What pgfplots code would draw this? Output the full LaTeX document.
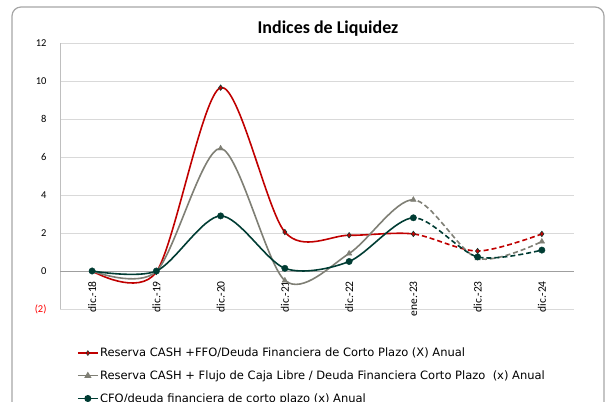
\documentclass[border=0pt]{standalone}
\usepackage{graphicx}
\usepackage{pgfplots}
\usepackage{pgfplotstable}
\pgfplotsset{compat=1.18}
\usepackage{fontspec}
\setmainfont{Carlito}
\newfontfamily\legfont{DejaVu Sans}
\definecolor{cred}{HTML}{C00000}
\definecolor{cgray}{HTML}{7F7F75}
\definecolor{cgreen}{HTML}{003C33}
\definecolor{cgrid}{HTML}{D9D9D9}
\definecolor{cframe}{HTML}{A6A6A6}
\newcommand{\rl}[1]{\rotatebox{90}{#1}}

\pgfplotstableread{
x a b c
0 0 0 0
1 -0.05 -0.02 0
2 9.65 6.45 2.9
3 2.05 -0.5 0.14
4 1.88 0.92 0.5
5 1.95 3.75 2.8
6 1.05 0.67 0.74
7 1.95 1.55 1.1
}\data

\begin{document}
\begin{tikzpicture}
\clip (0,0) rectangle (606bp,402bp);
\draw[cframe, line width=1.2bp, rounded corners=9bp] (12bp,-20bp) -- (12bp,395bp) -- (604bp,395bp) -- (604bp,-20bp);
\node[font=\bfseries\fontsize{18bp}{20bp}\selectfont] at (328bp,373bp) {Indices de Liquidez};
\begin{axis}[
  at={(60bp,93bp)}, anchor=south west,
  width=514bp, height=266bp, scale only axis,
  xmin=-0.5, xmax=7.5, ymin=-2, ymax=12,
  axis x line=bottom, axis y line=left,
  x axis line style={-, draw=none},
  y axis line style={-, draw=gray!50, line width=0.8bp},
  xtick={0,...,7},
  xticklabels={\rl{dic.-18},\rl{dic.-19},\rl{dic.-20},\rl{dic.-21},\rl{dic.-22},\rl{ene.-23},\rl{dic.-23},\rl{dic.-24}},
  xticklabel style={anchor=north, font=\fontsize{11.5bp}{13bp}\selectfont, inner sep=0bp, yshift=28bp},
  ytick={-2,2,4,...,12},
  yticklabels={\textcolor{red}{(2)},2,4,6,8,10,12},
  extra y ticks={0},
  extra y tick labels={0},
  extra y tick style={grid style={gray!75, line width=0.9bp}},
  yticklabel style={anchor=east, font=\fontsize{10.5bp}{12bp}\selectfont, xshift=-10bp},
  major tick length=0,
  ymajorgrids, grid style={cgrid, line width=0.8bp},
  clip=false,
  legend style={at={(0.033,-0.14)}, anchor=north west, draw=none, fill=none,
    font=\legfont\fontsize{11.5bp}{13.5bp}\selectfont, row sep=9.5bp, inner sep=0bp,
    nodes={inner sep=1.5bp}},
  legend cell align=left,
  legend image code/.code={\draw[mark repeat=2,mark phase=2] plot coordinates {(0bp,0bp)(10bp,0bp)(20bp,0bp)};},
]
% red
\begin{scope}
\clip (axis cs:-1,-3) rectangle (axis cs:5,13);
\addplot[cred, line width=1.6bp, smooth, no markers, forget plot] table[x=x,y=a]{\data};
\end{scope}
\begin{scope}
\clip (axis cs:5,-3) rectangle (axis cs:8,13);
\addplot[cred, line width=1.6bp, smooth, no markers, dash pattern=on 5bp off 3bp, forget plot] table[x=x,y=a]{\data};
\end{scope}
% gray
\begin{scope}
\clip (axis cs:-1,-3) rectangle (axis cs:5,13);
\addplot[cgray, line width=1.6bp, smooth, no markers, forget plot] table[x=x,y=b]{\data};
\end{scope}
\begin{scope}
\clip (axis cs:5,-3) rectangle (axis cs:8,13);
\addplot[cgray, line width=1.6bp, smooth, no markers, dash pattern=on 5bp off 3bp, forget plot] table[x=x,y=b]{\data};
\end{scope}
% green
\begin{scope}
\clip (axis cs:-1,-3) rectangle (axis cs:5,13);
\addplot[cgreen, line width=1.6bp, smooth, no markers, forget plot] table[x=x,y=c]{\data};
\end{scope}
\begin{scope}
\clip (axis cs:5,-3) rectangle (axis cs:8,13);
\addplot[cgreen, line width=1.6bp, smooth, no markers, dash pattern=on 5bp off 3bp, forget plot] table[x=x,y=c]{\data};
\end{scope}
% markers
\addplot[only marks, forget plot, mark=diamond*, mark size=2.8bp, mark options={fill=cred, draw=cgreen, line width=0.5bp}] table[x=x,y=a]{\data};
\addplot[only marks, forget plot, mark=triangle*, mark size=3.2bp, mark options={fill=cgray, draw=cgray}] table[x=x,y=b]{\data};
\addplot[only marks, forget plot, mark=*, mark size=3.2bp, mark options={fill=cgreen, draw=cgreen}] table[x=x,y=c]{\data};
\addlegendimage{cred, line width=1.4bp, mark=diamond*, mark size=2.5bp, mark options={fill=cred, draw=cgreen, line width=0.4bp}}
\addlegendentry{Reserva CASH +FFO/Deuda Financiera de Corto Plazo (X) Anual}
\addlegendimage{cgray, line width=1.4bp, mark=triangle*, mark size=2.8bp, mark options={fill=cgray}}
\addlegendentry{Reserva CASH + Flujo de Caja Libre / Deuda Financiera Corto Plazo~ (x) Anual}
\addlegendimage{cgreen, line width=1.4bp, mark=*, mark size=2.8bp, mark options={fill=cgreen}}
\addlegendentry{CFO/deuda financiera de corto plazo (x) Anual}
\end{axis}
\end{tikzpicture}
\end{document}
